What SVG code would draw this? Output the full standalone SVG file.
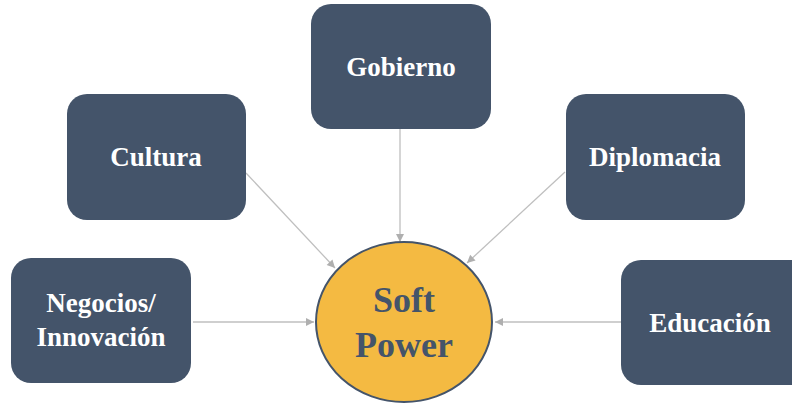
<svg xmlns="http://www.w3.org/2000/svg" width="792" height="405" viewBox="0 0 792 405">
<defs>
<marker id="arr" viewBox="0 0 10 10" refX="10" refY="5" markerWidth="9" markerHeight="8" markerUnits="userSpaceOnUse" orient="auto">
<path d="M0,0 L10,5 L0,10 z" fill="#AFAFAF"/>
</marker>
</defs>
<style>
.box{fill:#44546A;}
.lbl{font-family:"Liberation Serif","Times New Roman",serif;font-weight:bold;font-size:27px;fill:#FFFFFF;text-anchor:middle;}
.conn{stroke:#BFBFBF;stroke-width:1.3;fill:none;marker-end:url(#arr);}
.core{fill:#F4BA42;stroke:#44546A;stroke-width:2;}
.corelbl{font-family:"Liberation Serif","Times New Roman",serif;font-weight:bold;font-size:36px;fill:#44546A;text-anchor:middle;}
</style>
<rect width="792" height="405" fill="#FFFFFF"/>
<g id="connectors">
<line class="conn" x1="400" y1="129" x2="400" y2="242"/>
<line class="conn" x1="246" y1="173" x2="335" y2="268"/>
<line class="conn" x1="565" y1="172" x2="467" y2="263"/>
<line class="conn" x1="193" y1="322" x2="314" y2="322"/>
<line class="conn" x1="621" y1="322" x2="495" y2="322"/>
</g>
<g id="gobierno">
<rect class="box" x="311" y="4" width="180" height="125" rx="20"/>
<text class="lbl" x="401" y="76">Gobierno</text>
</g>
<g id="cultura">
<rect class="box" x="67" y="94" width="179" height="126" rx="20"/>
<text class="lbl" x="156" y="166">Cultura</text>
</g>
<g id="diplomacia">
<rect class="box" x="566" y="94" width="179" height="126" rx="20"/>
<text class="lbl" x="655" y="166">Diplomacia</text>
</g>
<g id="negocios">
<rect class="box" x="11" y="258" width="180" height="125" rx="20"/>
<text class="lbl" x="101" y="312">Negocios/</text>
<text class="lbl" x="101" y="346">Innovación</text>
</g>
<g id="educacion">
<rect class="box" x="621" y="260" width="190" height="125" rx="20"/>
<text class="lbl" x="710" y="332">Educación</text>
</g>
<g id="softpower">
<ellipse class="core" cx="404" cy="322" rx="88" ry="80"/>
<text class="corelbl" x="404" y="312">Soft</text>
<text class="corelbl" x="404" y="357">Power</text>
</g>
</svg>
